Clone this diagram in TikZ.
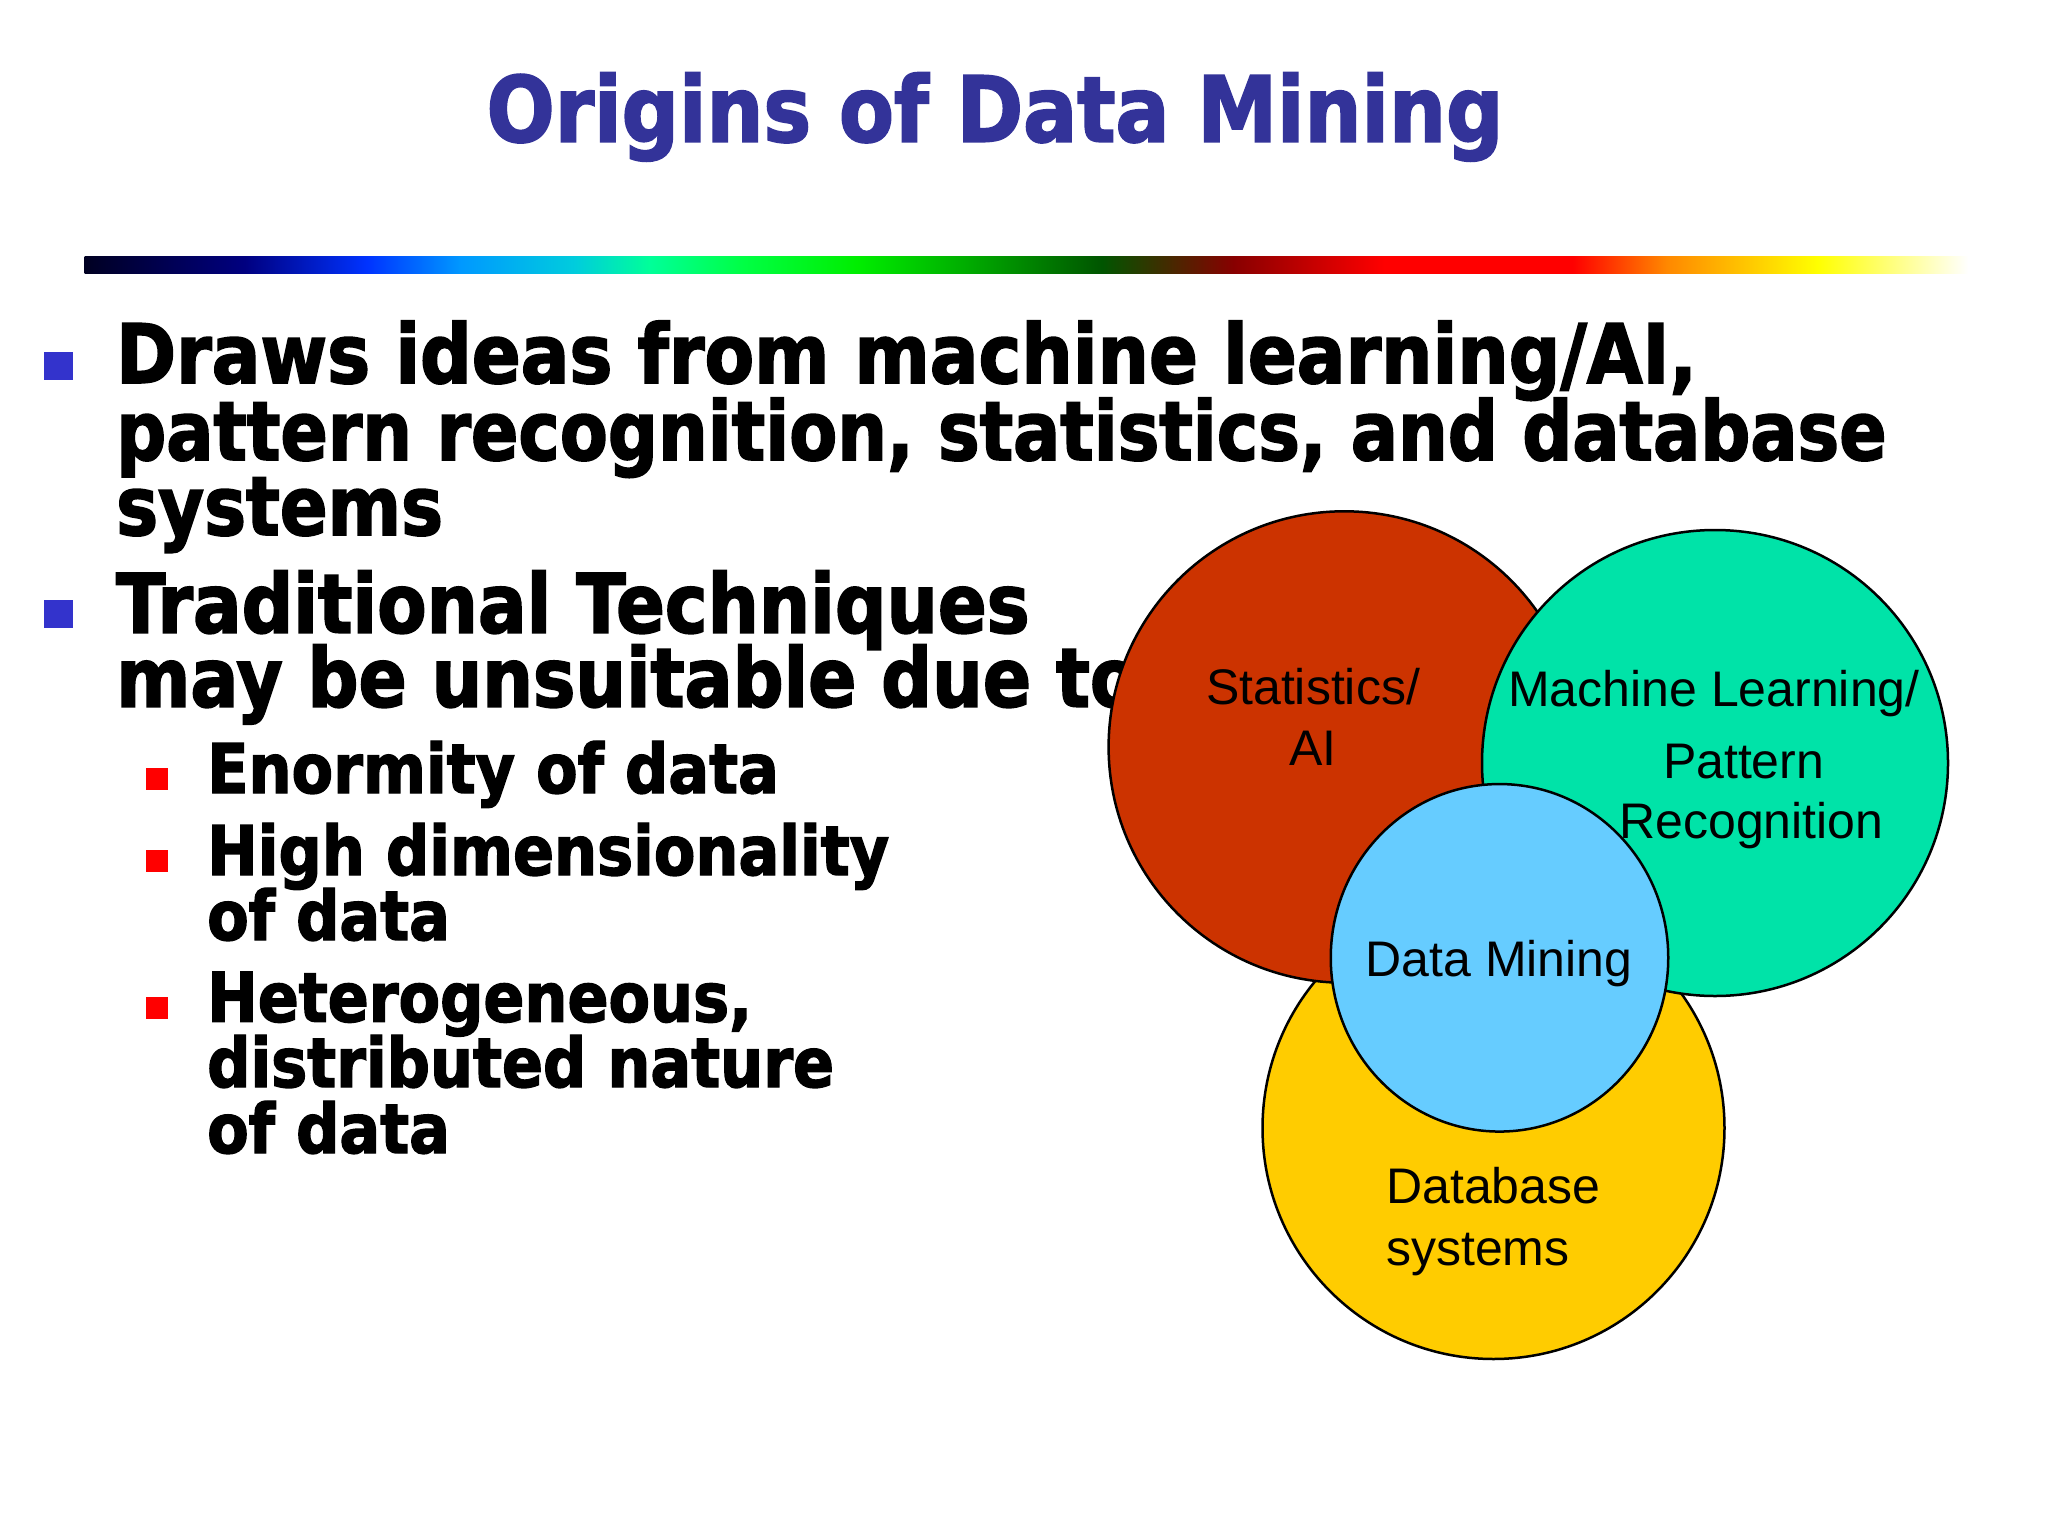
\documentclass[tikz,border=0pt]{standalone}
\usepackage{fontspec}
\usepackage{graphicx}
\setmainfont{Liberation Sans}
\newfontfamily\bodyfont[FakeStretch=0.86,FakeBold=2]{DejaVu Sans}
\newfontfamily\subfont[FakeStretch=0.883,FakeBold=2]{DejaVu Sans}
\newfontfamily\titlefont[FakeStretch=0.88,FakeBold=2]{DejaVu Sans}
\usetikzlibrary{shapes.geometric}
\definecolor{titleblue}{HTML}{333399}
\definecolor{bulletblue}{HTML}{3333CC}
\definecolor{bulletred}{HTML}{FF0000}
\definecolor{cred}{HTML}{CC3300}
\definecolor{cgreen}{HTML}{00E3A8}
\definecolor{cyellow}{HTML}{FFCC00}
\definecolor{cblue}{HTML}{66CCFF}
\definecolor{g0}{HTML}{000022}
\definecolor{g1}{HTML}{000080}
\definecolor{g2}{HTML}{0033FF}
\definecolor{g3}{HTML}{0099FF}
\definecolor{g4}{HTML}{00CCDD}
\definecolor{g5}{HTML}{00FF99}
\definecolor{g6}{HTML}{00FF44}
\definecolor{g7}{HTML}{00EE00}
\definecolor{g8}{HTML}{00AA00}
\definecolor{g9}{HTML}{005500}
\definecolor{g10}{HTML}{880000}
\definecolor{g11}{HTML}{FF0000}
\definecolor{g12}{HTML}{FF8800}
\definecolor{g13}{HTML}{FFFF00}
\pgfdeclarehorizontalshading{rainbowbar}{100bp}{color(0bp)=(g0); color(25bp)=(g0); color(29.25bp)=(g1); color(32.5bp)=(g2); color(35bp)=(g3); color(38bp)=(g4); color(40bp)=(g5); color(42.5bp)=(g6); color(45.5bp)=(g7); color(48.5bp)=(g8); color(52bp)=(g9); color(55.5bp)=(g10); color(59.5bp)=(g11); color(64.5bp)=(g11); color(67bp)=(g12); color(71bp)=(g13); color(75bp)=(white); color(100bp)=(white)}
\tikzset{
  titletext/.style={anchor=base, inner sep=0pt, text=titleblue, font=\titlefont\bfseries\fontsize{91}{91}\selectfont},
  bodytext/.style={anchor=base west, inner sep=0pt, font=\bodyfont\bfseries\fontsize{82}{82}\selectfont},
  subtext/.style={anchor=base west, inner sep=0pt, font=\subfont\bfseries\fontsize{68.5}{68.5}\selectfont},
  circlabel/.style={inner sep=0pt, font=\fontsize{50}{50}\selectfont},
  venn/.style={circle, draw=black, line width=2.5pt, inner sep=0pt},
}
\begin{document}
\begin{tikzpicture}[x=1pt, y=-1pt]
\useasboundingbox (0,0) rectangle (2048,1536);
\fill[white] (0,0) rectangle (2048,1536);
% title
\node[titletext] (title) at (995,141.7) {Origins of Data Mining};
% rainbow bar
\shade[shading=rainbowbar] (84.6,256) rectangle (1968,273);
% bullets
\fill[bulletblue] (44,352) rectangle (73,380);
\node[bodytext] (l1) at (116,383) {\scalebox{1.024}[1]{Draws ideas from machine learning/AI,}};
\node[bodytext] (l2) at (116,460) {\scalebox{0.992}[1]{pattern recognition, statistics, and database}};
\node[bodytext] (l3) at (116,535) {systems};
\fill[bulletblue] (44,600) rectangle (73,628);
\node[bodytext] (l4) at (116,632.7) {\scalebox{1.022}[1]{Traditional Techniques}};
\node[bodytext] (l5) at (116,706.7) {\scalebox{1.01}[1]{may be unsuitable due to}};
% sub-bullets
\fill[bulletred] (146,768) rectangle (168,790);
\node[subtext] (s1) at (207,793) {Enormity of data};
\fill[bulletred] (146,850) rectangle (168,872);
\node[subtext] (s2) at (207,875) {High dimensionality};
\node[subtext] (s3) at (207,940) {of data};
\fill[bulletred] (146,997) rectangle (168,1019);
\node[subtext] (s4) at (207,1021.7) {Heterogeneous,};
\node[subtext] (s5) at (207,1087) {distributed nature};
\node[subtext] (s6) at (207,1153) {of data};
% Venn circles
\node[venn, fill=cyellow, minimum size=462pt] (db) at (1493.5,1128) {};
\node[venn, fill=cred, minimum size=471.4pt] (stat) at (1344.3,747) {};
\node[venn, fill=cgreen, minimum size=466pt] (ml) at (1715,763) {};
\node[draw=black, line width=2.5pt, fill=cblue, ellipse, inner sep=0pt, minimum width=337.5pt, minimum height=347.5pt] (dm) at (1499.5,957.8) {};
% labels
\node[circlabel, anchor=base] (t1) at (1313,704) {Statistics/};
\node[circlabel, anchor=base] (t2) at (1313,765) {AI};
\node[circlabel, anchor=base] (t3) at (1714,706.6) {Machine Learning/};
\node[circlabel, anchor=base] (t4) at (1743.6,778) {Pattern};
\node[circlabel, anchor=base] (t5) at (1751.5,838.7) {Recognition};
\node[circlabel, anchor=base] (t6) at (1499,976.5) {Data Mining};
\node[circlabel, anchor=base west] (t7) at (1386,1203) {Database};
\node[circlabel, anchor=base west] (t8) at (1386,1265) {systems};
\end{tikzpicture}
\end{document}
